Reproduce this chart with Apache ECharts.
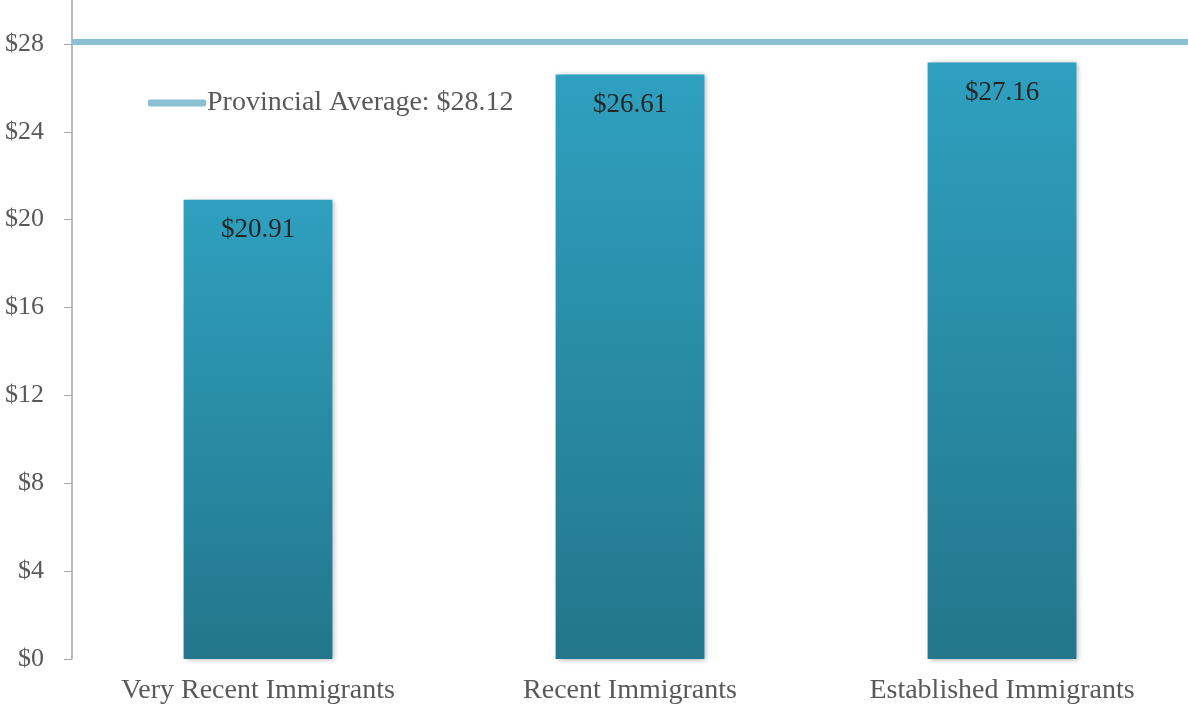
<!DOCTYPE html>
<html>
<head>
<meta charset="utf-8">
<script src="https://cdn.jsdelivr.net/npm/echarts@6/dist/echarts.min.js"></script>
<style>
  html, body { margin: 0; padding: 0; background: #fff; }
  #chart { width: 1188px; height: 707px; }
</style>
</head>
<body>
<div id="chart"></div>
<script>
// Average hourly wage by immigrant status
const categories = ['Very Recent Immigrants', 'Recent Immigrants', 'Established Immigrants'];
const wages = [20.91, 26.61, 27.16];
const provincialAverage = 28.12;
const yTicks = { min: 0, max: 30, interval: 4 };

const serif = '"Liberation Serif", "Times New Roman", serif';
const avgName = 'Provincial Average: $' + provincialAverage.toFixed(2);

const chart = echarts.init(document.getElementById('chart'));
chart.setOption({
  animation: false,
  backgroundColor: '#ffffff',
  grid: { left: 72, right: 0, top: 0, bottom: 48, containLabel: false },
  legend: {
    data: [{ name: avgName, icon: 'roundRect' }],
    left: 148, top: 89, padding: 0,
    itemWidth: 58, itemHeight: 7,
    textStyle: { fontFamily: serif, fontSize: 28, color: '#595959', padding: [0, 0, 0, -4] }
  },
  xAxis: {
    type: 'category',
    data: categories,
    axisLine: { show: false },
    axisTick: { show: false },
    axisLabel: { fontFamily: serif, fontSize: 28, color: '#595959', margin: 18 }
  },
  yAxis: {
    type: 'value',
    min: yTicks.min, max: yTicks.max, interval: yTicks.interval,
    axisLine: { show: true, lineStyle: { color: '#a6a6a6', width: 1.5 } },
    axisTick: { show: true, length: 8, lineStyle: { color: '#a6a6a6' } },
    splitLine: { show: false },
    axisLabel: {
      showMaxLabel: false,
      fontFamily: serif, fontSize: 26, color: '#595959', margin: 28,
      formatter: v => '$' + v
    }
  },
  series: [
    {
      type: 'bar',
      data: wages,
      barWidth: '40%',
      itemStyle: {
        color: new echarts.graphic.LinearGradient(0, 0, 0, 1, [
          { offset: 0, color: '#2fa0c0' },
          { offset: 1, color: '#23768b' }
        ]),
        shadowBlur: 5,
        shadowColor: 'rgba(0,0,0,0.3)',
        shadowOffsetX: 2,
        shadowOffsetY: 1
      },
      label: {
        show: true,
        position: 'insideTop',
        distance: 17,
        fontFamily: serif, fontSize: 27, color: '#262626',
        formatter: p => '$' + p.value.toFixed(2)
      },
      z: 2
    },
    {
      name: avgName,
      type: 'line',
      data: [],
      itemStyle: { color: '#8bbfd4' },
      lineStyle: { color: '#8bbfd4', width: 6 },
      markLine: {
        silent: true,
        symbol: 'none',
        label: { show: false },
        lineStyle: { color: '#8bbfd4', width: 6, type: 'solid' },
        data: [{ yAxis: provincialAverage }]
      },
      z: 3
    }
  ]
});
</script>
</body>
</html>
